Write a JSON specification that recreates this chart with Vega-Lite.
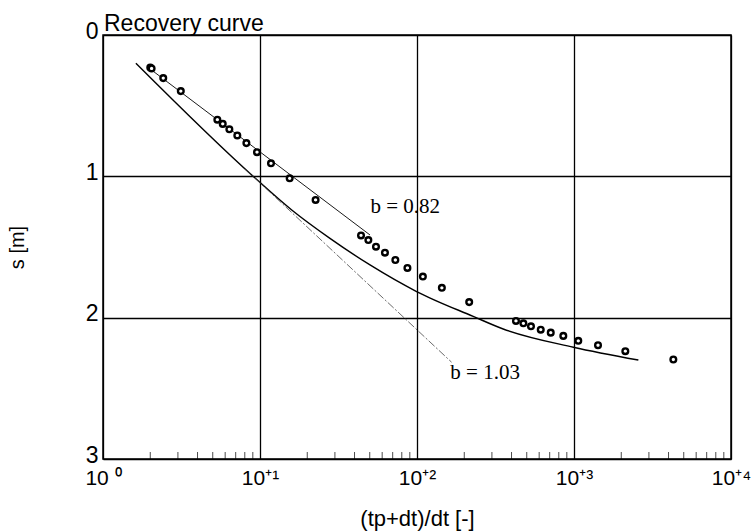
{
  "$schema": "https://vega.github.io/schema/vega-lite/v6.json",
  "autosize": {"type": "none"},
  "width": 628,
  "height": 424,
  "padding": {"left": 103, "top": 35, "right": 23, "bottom": 73},
  "background": "white",
  "config": {
    "view": {"stroke": "black", "strokeWidth": 1.5},
    "font": "Liberation Sans"
  },
  "datasets": {
    "pts": [
      {"x": 2.0, "s": 0.23},
      {"x": 2.04, "s": 0.237},
      {"x": 2.42, "s": 0.305},
      {"x": 3.13, "s": 0.397},
      {"x": 5.35, "s": 0.599},
      {"x": 5.79, "s": 0.629},
      {"x": 6.38, "s": 0.667},
      {"x": 7.17, "s": 0.711},
      {"x": 8.19, "s": 0.765},
      {"x": 9.57, "s": 0.829},
      {"x": 11.75, "s": 0.908},
      {"x": 15.45, "s": 1.014},
      {"x": 22.6, "s": 1.167},
      {"x": 44.0, "s": 1.418},
      {"x": 49.0, "s": 1.451},
      {"x": 54.8, "s": 1.498},
      {"x": 62.5, "s": 1.54},
      {"x": 72.8, "s": 1.592},
      {"x": 86.9, "s": 1.648},
      {"x": 109, "s": 1.709},
      {"x": 144, "s": 1.789},
      {"x": 215, "s": 1.89},
      {"x": 427, "s": 2.023},
      {"x": 476, "s": 2.04},
      {"x": 532, "s": 2.061},
      {"x": 614, "s": 2.085},
      {"x": 711, "s": 2.106},
      {"x": 855, "s": 2.129},
      {"x": 1065, "s": 2.164},
      {"x": 1422, "s": 2.195},
      {"x": 2123, "s": 2.237},
      {"x": 4293, "s": 2.296}
    ],
    "lines": [
      {"series": "b082", "x": 1.99, "s": 0.239},
      {"series": "b082", "x": 50.2, "s": 1.415},
      {"series": "b103", "x": 8.0, "s": 0.945},
      {"series": "b103", "x": 166, "s": 2.315},
      {"series": "fit", "x": 1.62, "s": 0.2},
      {"series": "fit", "x": 9.3, "s": 1.012},
      {"series": "fit", "x": 16.0, "s": 1.24},
      {"series": "fit", "x": 27.9, "s": 1.439},
      {"series": "fit", "x": 50.2, "s": 1.627},
      {"series": "fit", "x": 99.4, "s": 1.815},
      {"series": "fit", "x": 228, "s": 1.991},
      {"series": "fit", "x": 354, "s": 2.08},
      {"series": "fit", "x": 991, "s": 2.209},
      {"series": "fit", "x": 2570, "s": 2.3}
    ],
    "labels": [
      {"x": 50.5, "s": 1.22, "t": "b = 0.82"},
      {"x": 163, "s": 2.39, "t": "b = 1.03"}
    ],
    "heading": [
      {"x": 1, "s": 0, "t": "Recovery curve"}
    ],
    "minor": [
      {"x": 2}, {"x": 3}, {"x": 4}, {"x": 5}, {"x": 6}, {"x": 7}, {"x": 8}, {"x": 9},
      {"x": 20}, {"x": 30}, {"x": 40}, {"x": 50}, {"x": 60}, {"x": 70}, {"x": 80}, {"x": 90},
      {"x": 200}, {"x": 300}, {"x": 400}, {"x": 500}, {"x": 600}, {"x": 700}, {"x": 800}, {"x": 900},
      {"x": 2000}, {"x": 3000}, {"x": 4000}, {"x": 5000}, {"x": 6000}, {"x": 7000}, {"x": 8000}, {"x": 9000}
    ]
  },
  "layer": [
    {
      "data": {"name": "minor"},
      "mark": {"type": "tick", "orient": "vertical", "color": "black", "thickness": 1, "size": 7, "yOffset": -3.5},
      "encoding": {
        "x": {"field": "x", "type": "quantitative", "scale": {"type": "log", "domain": [1, 10000]},
          "axis": {
            "values": [1, 10, 100, 1000, 10000],
            "grid": true, "gridColor": "black", "gridOpacity": 1, "gridWidth": 1.3,
            "domain": false, "ticks": false,
            "labelExpr": "datum.value == 1 ? '10 ⁰' : datum.value == 10 ? '10⁺¹' : datum.value == 100 ? '10⁺²' : datum.value == 1000 ? '10⁺³' : '10⁺⁴'",
            "labelFontSize": 21, "labelColor": "black", "labelPadding": 8, "labelFlush": false, "labelOverlap": false,
            "title": "(tp+dt)/dt [-]", "titleFontSize": 22, "titleFontWeight": "normal", "titleColor": "black",
            "titleBaseline": "alphabetic", "titleY": 66
          }
        },
        "y": {"datum": 3, "type": "quantitative", "scale": {"domain": [0, 3], "reverse": true, "nice": false},
          "axis": {
            "values": [0, 1, 2, 3],
            "format": "d",
            "grid": true, "gridColor": "black", "gridOpacity": 1, "gridWidth": 1.3,
            "domain": false, "ticks": false,
            "labelFontSize": 23, "labelColor": "black", "labelPadding": 5, "labelBaseline": "alphabetic", "labelOffset": 3, "labelFlush": false,
            "title": "s [m]", "titleFontSize": 20, "titleFontWeight": "normal", "titleColor": "black",
            "titleX": -76
          }
        }
      }
    },
    {
      "data": {"name": "lines"},
      "transform": [{"filter": "datum.series == 'fit'"}],
      "mark": {"type": "line", "color": "black", "strokeWidth": 1.4, "interpolate": "monotone"},
      "encoding": {
        "x": {"field": "x", "type": "quantitative"},
        "y": {"field": "s", "type": "quantitative"}
      }
    },
    {
      "data": {"name": "lines"},
      "transform": [{"filter": "datum.series == 'b082'"}],
      "mark": {"type": "line", "color": "black", "strokeWidth": 0.9},
      "encoding": {
        "x": {"field": "x", "type": "quantitative"},
        "y": {"field": "s", "type": "quantitative"}
      }
    },
    {
      "data": {"name": "lines"},
      "transform": [{"filter": "datum.series == 'b103'"}],
      "mark": {"type": "line", "color": "#444444", "strokeWidth": 0.8, "strokeDash": [8, 2, 2, 2]},
      "encoding": {
        "x": {"field": "x", "type": "quantitative"},
        "y": {"field": "s", "type": "quantitative"}
      }
    },
    {
      "data": {"name": "pts"},
      "mark": {"type": "point", "shape": "circle", "filled": false, "fill": "white", "fillOpacity": 1, "color": "black", "strokeWidth": 2.4, "size": 32, "opacity": 1},
      "encoding": {
        "x": {"field": "x", "type": "quantitative"},
        "y": {"field": "s", "type": "quantitative"}
      }
    },
    {
      "data": {"name": "labels"},
      "mark": {"type": "text", "font": "Liberation Serif", "fontSize": 21, "align": "left", "baseline": "middle", "color": "black"},
      "encoding": {
        "x": {"field": "x", "type": "quantitative"},
        "y": {"field": "s", "type": "quantitative"},
        "text": {"field": "t"}
      }
    },
    {
      "data": {"name": "heading"},
      "mark": {"type": "text", "font": "Liberation Sans", "fontSize": 23, "align": "left", "baseline": "alphabetic", "dx": 1, "dy": -4, "color": "black", "clip": false},
      "encoding": {
        "x": {"field": "x", "type": "quantitative"},
        "y": {"field": "s", "type": "quantitative"},
        "text": {"field": "t"}
      }
    }
  ]
}
